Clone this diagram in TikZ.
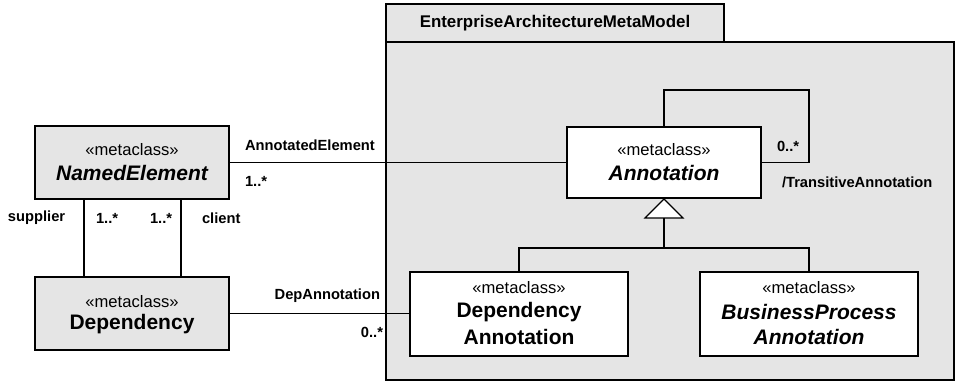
\documentclass[tikz,border=0pt]{standalone}
\usepackage{fontspec}
\setmainfont{Liberation Sans}
\begin{document}
\begin{tikzpicture}[x=1pt,y=-1pt,
  every node/.style={inner sep=0pt,outer sep=0pt},
  pkgfill/.style={fill=black!10},
  classbox/.style={draw=black,line width=2.6pt,align=center,inner sep=0pt},
  grayclass/.style={classbox,fill=black!10},
  whiteclass/.style={classbox,fill=white},
  assoc/.style={draw=black,line width=1.2pt},
  lbl/.style={font=\fontsize{14.7}{17}\selectfont\bfseries},
  stereo/.style={font=\fontsize{16.6}{24}\selectfont},
  cname/.style={font=\fontsize{21}{25}\selectfont\bfseries},
  cnamei/.style={font=\fontsize{21}{25}\selectfont\bfseries\itshape}
]
\useasboundingbox (0,0) rectangle (956,383);

% package frame
\node[draw=black,line width=1.6pt,pkgfill,minimum width=338pt,minimum height=38pt] (tab) at (555,23) {};
\node[font=\fontsize{16.9}{19}\selectfont\bfseries] (tabtext) at (tab.center) {EnterpriseArchitectureMetaModel};
\node[draw=black,line width=1.6pt,pkgfill,minimum width=568pt,minimum height=338pt] (pkg) at (670,211) {};

% classes
\node[grayclass,minimum width=194pt,minimum height=73pt] (named) at (132,162.5) {};
\node[stereo] at (132,150) {«metaclass»};
\node[cnamei] at (132,173) {NamedElement};

\node[grayclass,minimum width=194pt,minimum height=73pt] (dep) at (132,313.5) {};
\node[stereo] at (132,302) {«metaclass»};
\node[cname] at (132,324) {Dependency};

\node[whiteclass,minimum width=194pt,minimum height=71pt] (ann) at (664,162.5) {};
\node[stereo] at (664,150) {«metaclass»};
\node[cnamei] at (664,173) {Annotation};

\node[whiteclass,minimum width=218pt,minimum height=84pt] (dann) at (519,314) {};
\node[stereo] at (519,288) {«metaclass»};
\node[cname] at (519,312) {Dependency};
\node[cname] at (519,337) {Annotation};

\node[whiteclass,minimum width=218pt,minimum height=84pt] (bpa) at (809,314) {};
\node[stereo] at (809,288) {«metaclass»};
\node[cnamei] at (809,312) {BusinessProcess};
\node[cnamei] at (809,337) {Annotation};

% associations
\draw[assoc] (named.east) -- (named.east -| ann.west);
\draw[assoc] (dep.east) -- (dep.east -| dann.west);
\draw[assoc] (named.south -| 84,0) -- (dep.north -| 84,0);
\draw[assoc] (named.south -| 181,0) -- (dep.north -| 181,0);

% self association of Annotation
\coordinate (loopcorner) at (809,90);
\draw[assoc] (ann.north) |- (loopcorner) |- (ann.east);

% generalization
\coordinate (tip) at (664,199);
\coordinate (tbase) at (664,218);
\coordinate (fork) at (664,248);
\draw[line width=1.2pt,fill=white,line join=miter] (tip) -- (645,218) -- (683,218) -- cycle;
\draw[assoc] (tbase) -- (fork);
\draw[assoc] (dann.north) |- (fork) -| (bpa.north);

% association labels
\node[lbl,anchor=west] (l1) at (245,145) {AnnotatedElement};
\node[lbl,anchor=west] (l2) at (245,181) {1..*};
\node[lbl,anchor=west] (l3) at (8,218) {supplier};
\node[lbl,anchor=west] (l4) at (96,218) {1..*};
\node[lbl,anchor=west] (l5) at (150,218) {1..*};
\node[lbl,anchor=west] (l6) at (202,218) {client};
\node[lbl,anchor=east] (l7) at (380,296) {DepAnnotation};
\node[lbl,anchor=east] (l8) at (383,332) {0..*};
\node[lbl,anchor=west] (l9) at (777,146) {0..*};
\node[lbl,anchor=west] (l10) at (782,182) {/TransitiveAnnotation};
\end{tikzpicture}
\end{document}
